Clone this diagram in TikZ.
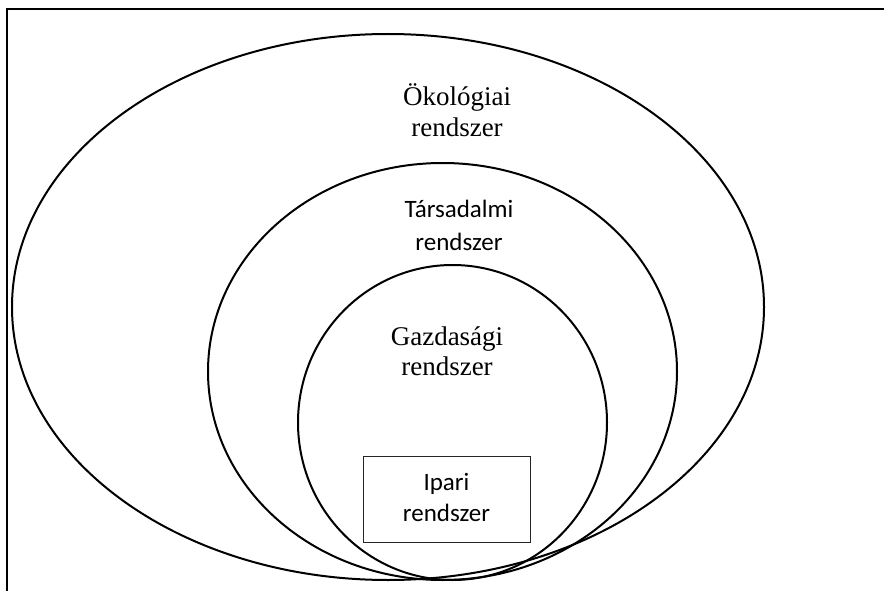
\documentclass[tikz,border=0pt]{standalone}
\usepackage{fontspec}
\setmainfont{Liberation Serif}
\newfontfamily\calib{Carlito}
\usetikzlibrary{shapes.geometric}
\begin{document}
\begin{tikzpicture}[x=1pt,y=-1pt,
  ring/.style={draw=black,line width=2pt,ellipse,inner sep=0pt},
  serifl/.style={anchor=base,inner sep=0pt,font=\fontsize{27}{31}\selectfont},
  sansl/.style={anchor=base,inner sep=0pt,font=\calib\fontsize{25}{31}\selectfont},
  boxed/.style={draw=black!85,line width=0.9pt,inner sep=0pt}]
\useasboundingbox (0,0) rectangle (884,591);
% open frame: top and left edges only
\draw[line width=2.5pt] (7,591) -- (7,9) -- (884,9);
% nested systems
\node[ring,minimum width=752pt,minimum height=546pt] (eco) at (388,307) {};
\node[ring,minimum width=469pt,minimum height=417pt] (soc) at (442.5,371.5) {};
\node[ring,minimum width=309pt,minimum height=315pt] (gaz) at (452.5,422.5) {};
\node[boxed,minimum width=167pt,minimum height=86pt] (ind) at (446.5,499) {};
% labels
\node[serifl] (eco1) at (457,106) {Ökológiai};
\node[serifl] (eco2) at (457,137) {rendszer};
\node[sansl] (soc1) at (459,217) {Társadalmi};
\node[sansl] (soc2) at (459,250) {rendszer};
\node[serifl] (gaz1) at (447,345) {Gazdasági};
\node[serifl] (gaz2) at (447,375) {rendszer};
\node[sansl] (ind1) at (446.5,490) {Ipari};
\node[sansl] (ind2) at (446.5,521) {rendszer};
\end{tikzpicture}
\end{document}
